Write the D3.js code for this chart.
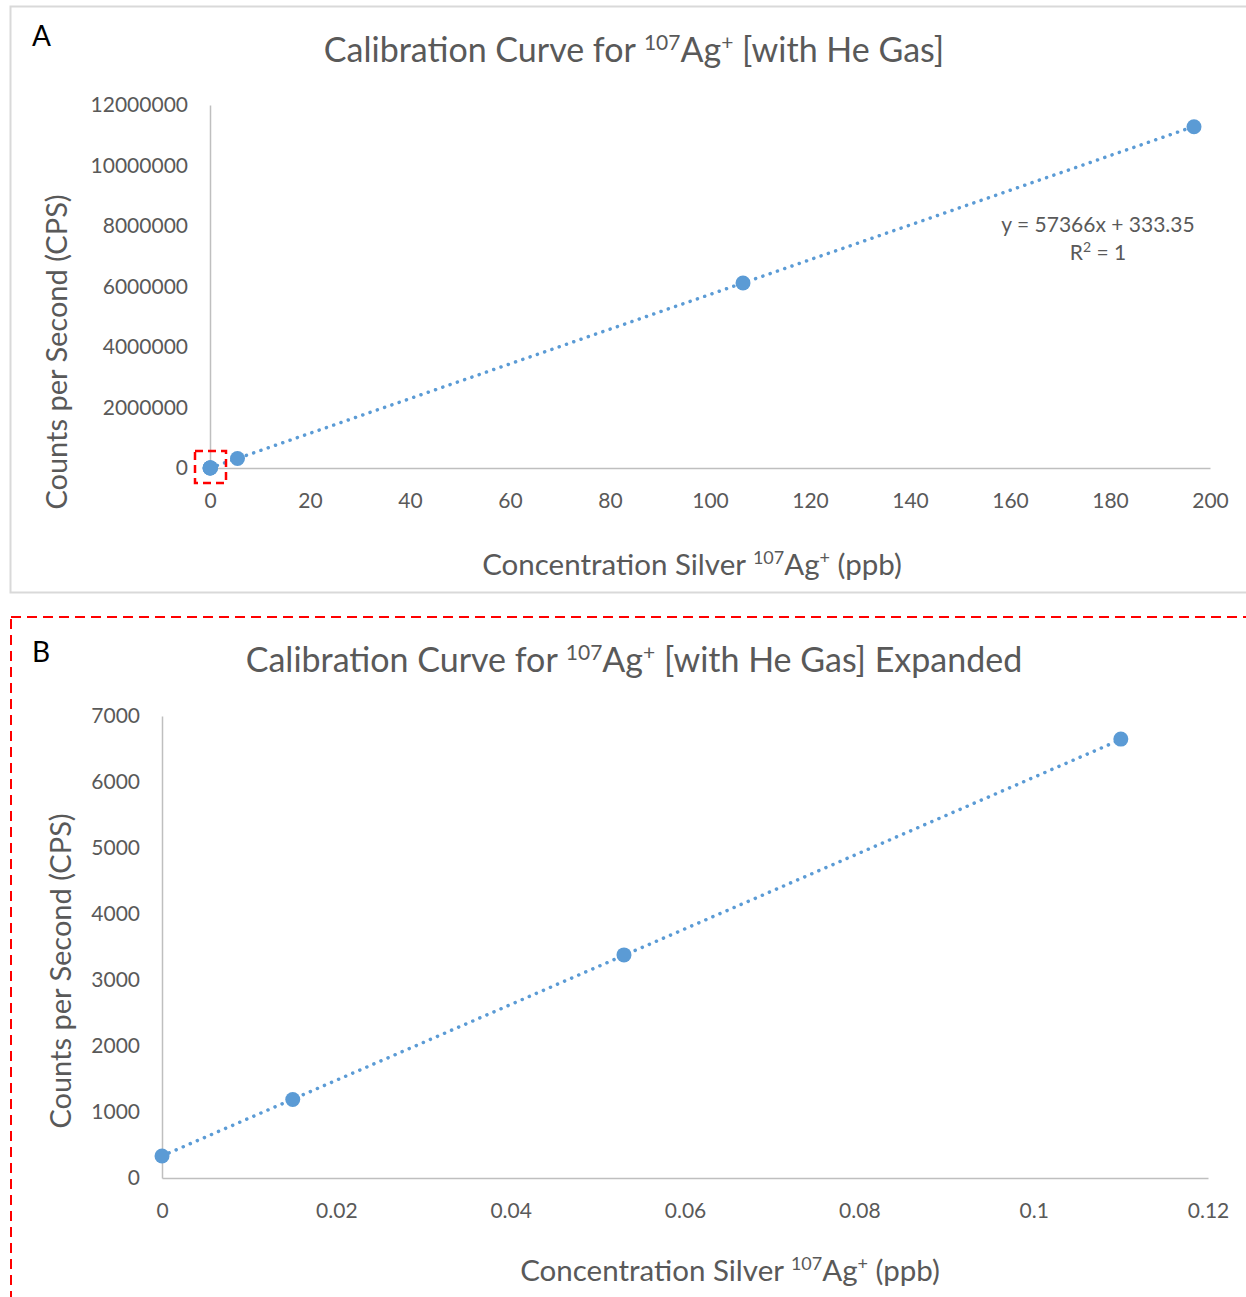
<!DOCTYPE html>
<html>
<head>
    <title>Calibration Curve 107Ag+</title>
    <script src="https://cdn.jsdelivr.net/npm/d3@7"></script>
    <style>
        body {
            margin: 0;
            padding: 0;
            background-color: white;
        }

        svg {
            font-family: Lato, "Open Sans", sans-serif;
        }

        .axis path {
            stroke: #bfbfbf;
            stroke-width: 1.5px;
        }

        .axis text {
            fill: #595959;
            font-size: 21px;
            font-family: Lato, "Open Sans", sans-serif;
        }

        .chart-title {
            fill: #595959;
        }

        .axis-label {
            fill: #595959;
        }

        .panel-letter {
            fill: black;
            font-size: 28px;
        }

        .equation {
            fill: #595959;
            font-size: 21px;
        }
    </style>
</head>
<body>
    <div id="chart"></div>

    <script>
        // standards: concentration (ppb) and measured counts per second
        const concentration = [0, 0.015, 0.053, 0.11, 5.5, 106.6, 196.8];
        const countsPerSecond = [333, 1190, 3380, 6650, 316000, 6115000, 11280000];

        // linear trendline from the spreadsheet
        const trendSlope = 57366;
        const trendIntercept = 333.35;

        const xTicksA = [0, 20, 40, 60, 80, 100, 120, 140, 160, 180, 200];
        const yTicksA = [0, 2000000, 4000000, 6000000, 8000000, 10000000, 12000000];
        const xTicksB = [0, 0.02, 0.04, 0.06, 0.08, 0.1, 0.12];
        const yTicksB = [0, 1000, 2000, 3000, 4000, 5000, 6000, 7000];

        const width = 1246;
        const height = 1297;
        const blue = "#5b9bd5";

        const svg = d3.select("#chart")
            .append("svg")
            .attr("width", width)
            .attr("height", height);

        const points = concentration.map((c, i) => ({ x: c, y: countsPerSecond[i] }));

        // panel frames
        svg.append("rect")
            .attr("x", 10.5).attr("y", 6.5)
            .attr("width", 1240).attr("height", 586)
            .attr("fill", "none")
            .attr("stroke", "#d9d9d9")
            .attr("stroke-width", 2);

        svg.append("rect")
            .attr("x", 11).attr("y", 617)
            .attr("width", 1250).attr("height", 700)
            .attr("fill", "none")
            .attr("stroke", "#ff0000")
            .attr("stroke-width", 2)
            .attr("stroke-dasharray", "10 6");

        // text with a superscripted 107 and + around "Ag"
        function titleWithIso(g, x, y, cls, size, before, after) {
            const sup = Math.round(size * 0.62);
            const lift = Math.round(size * 0.36);
            const t = g.append("text")
                .attr("class", cls)
                .attr("x", x)
                .attr("y", y)
                .attr("font-size", size)
                .attr("text-anchor", "middle");
            t.append("tspan").text(before);
            t.append("tspan").attr("font-size", sup).attr("dy", -lift).text("107");
            t.append("tspan").attr("dy", lift).text("Ag");
            t.append("tspan").attr("font-size", sup).attr("dy", -lift).text("+");
            t.append("tspan").attr("dy", lift).text(after);
            return t;
        }

        function drawPanel(opts) {
            const g = svg.append("g");

            const x = d3.scaleLinear().domain(opts.xDomain).range([opts.left, opts.right]);
            const y = d3.scaleLinear().domain(opts.yDomain).range([opts.bottom, opts.top]);

            g.append("text")
                .attr("class", "panel-letter")
                .attr("x", 32)
                .attr("y", opts.letterY)
                .text(opts.letter);

            titleWithIso(g, 634, opts.titleY, "chart-title", 34,
                "Calibration Curve for ", opts.titleEnd);

            g.append("g")
                .attr("class", "axis")
                .attr("transform", `translate(0,${opts.bottom})`)
                .call(d3.axisBottom(x).tickValues(opts.xTicks).tickSize(0).tickPadding(opts.xPad)
                    .tickFormat(d3.format("~g")));

            g.append("g")
                .attr("class", "axis")
                .attr("transform", `translate(${opts.left},0)`)
                .call(d3.axisLeft(y).tickValues(opts.yTicks).tickSize(0).tickPadding(opts.yPad)
                    .tickFormat(d3.format("d")));

            g.append("text")
                .attr("class", "axis-label")
                .attr("font-size", 29)
                .attr("transform", `translate(${opts.yLabelX},${opts.yLabelMid}) rotate(-90)`)
                .attr("text-anchor", "middle")
                .text("Counts per Second (CPS)");

            titleWithIso(g, opts.xLabelX, opts.xLabelY, "axis-label", 29.5,
                "Concentration Silver ", " (ppb)");

            // dotted trendline across the data range
            const data = points.filter(d => d.x <= opts.xDomain[1]);
            const xExt = d3.extent(data, d => d.x);
            g.append("line")
                .attr("x1", x(xExt[0]))
                .attr("y1", y(trendSlope * xExt[0] + trendIntercept))
                .attr("x2", x(xExt[1]))
                .attr("y2", y(trendSlope * xExt[1] + trendIntercept))
                .attr("stroke", blue)
                .attr("stroke-width", 3.5)
                .attr("stroke-linecap", "round")
                .attr("stroke-dasharray", "0.1 7.6");

            g.selectAll(".dot")
                .data(data)
                .enter()
                .append("circle")
                .attr("class", "dot")
                .attr("cx", d => x(d.x))
                .attr("cy", d => y(d.y))
                .attr("r", 7.5)
                .attr("fill", blue);

            return { g, x, y };
        }

        const panelA = drawPanel({
            letter: "A", letterY: 46, titleY: 62, titleEnd: " [with He Gas]",
            xDomain: [0, 200], yDomain: [0, 12000000],
            left: 210, right: 1210, top: 105, bottom: 468,
            xTicks: xTicksA, yTicks: yTicksA, xPad: 25, yPad: 22,
            yLabelX: 67, yLabelMid: 352, xLabelX: 692, xLabelY: 575
        });

        const panelB = drawPanel({
            letter: "B", letterY: 662, titleY: 672, titleEnd: " [with He Gas] Expanded",
            xDomain: [0, 0.12], yDomain: [0, 7000],
            left: 162, right: 1208, top: 716, bottom: 1178,
            xTicks: xTicksB, yTicks: yTicksB, xPad: 25, yPad: 22,
            yLabelX: 71, yLabelMid: 971, xLabelX: 730, xLabelY: 1281
        });

        // equation label on the full-range chart
        const eq = panelA.g.append("text")
            .attr("class", "equation")
            .attr("text-anchor", "middle");
        eq.append("tspan").attr("x", 1098).attr("y", 232).text("y = 57366x + 333.35");
        const r2 = eq.append("tspan").attr("x", 1098).attr("y", 260);
        r2.append("tspan").text("R");
        r2.append("tspan").attr("font-size", 14).attr("dy", -8).text("2");
        r2.append("tspan").attr("dy", 8).text(" = 1");

        // red box marking the low concentration standards shown in panel B
        panelA.g.append("rect")
            .attr("x", panelA.x(0) - 15)
            .attr("y", panelA.y(0) - 17)
            .attr("width", 31)
            .attr("height", 32)
            .attr("fill", "none")
            .attr("stroke", "#ff0000")
            .attr("stroke-width", 2.5)
            .attr("stroke-dasharray", "8 5");
    </script>
</body>
</html>
